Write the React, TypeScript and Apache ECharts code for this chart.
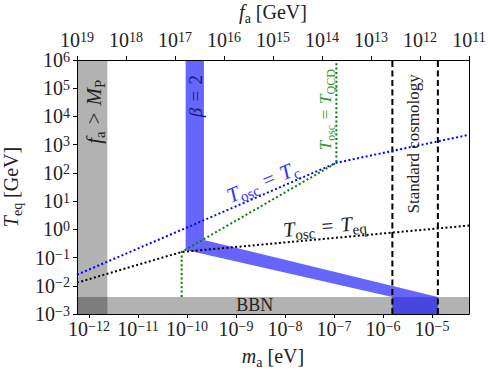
import React, { useEffect, useRef } from 'react';
import * as echarts from 'echarts';

// ---- data (physical units) ----
const K_CONV = 5.7e6; // m_a [eV] * f_a [GeV]
const FA_MIN = 1e11;
const FA_MAX = 1e19;
const T_MIN = 1e-3;
const T_MAX = 1e6;
const MA_TICK_EXP = [-12, -11, -10, -9, -8, -7, -6, -5];
const FA_TICK_EXP = [11, 12, 13, 14, 15, 16, 17, 18, 19];
const FA_PLANCK = 2.4e18;
const T_BBN = 4e-3;
const BETA2_LOWER_M = [9.4e-11, 9.4e-11, 1.556e-6, 1.556e-6];
const BETA2_LOWER_T = [1e6, 0.187, 4e-3, 1e-3];
const BETA2_UPPER_M = [2.22e-10, 2.22e-10, 1.32e-5, 1.32e-5];
const BETA2_UPPER_T = [1e6, 0.423, 4e-3, 1e-3];
const STD_COSMO_M = [1.556e-6, 1.32e-5];
const TC_M = [5.7e-13, 1e-10, 1.12e-7, 5.7e-5];
const TC_T = [0.0247, 1.16, 228, 2240];
const TQCD_M = [7.8e-11, 7.8e-11, 1.12e-7, 1.12e-7];
const TQCD_T = [4e-3, 0.158, 228, 1e6];
const TEQ_M = [5.7e-13, 7.8e-11, 5.7e-5];
const TEQ_T = [0.0129, 0.158, 1.36];

const lg = Math.log10;
const SERIF = "'Liberation Serif', 'DejaVu Serif', serif";
const EQ = '\u2004=\u2004';
const GT = '\u2004>\u2004';

const supLabel = (v: number) => {
  const n = Math.round(v);
  if (Math.abs(v - n) > 1e-6) return '';
  return `{b|10}{s|${n < 0 ? '\u2212' + Math.abs(n) : n}}`;
};
const tickRich = {
  b: { fontFamily: SERIF, fontSize: 20, lineHeight: 20, color: '#222' },
  s: { fontFamily: SERIF, fontSize: 14, lineHeight: 8, verticalAlign: 'top', color: '#222' },
};
const mathRich = (size: number, color: string) => {
  const sub = Math.round(size * 0.7);
  return {
    i: { fontFamily: SERIF, fontStyle: 'italic', fontSize: size, lineHeight: size + 6, color, fill: color },
    r: { fontFamily: SERIF, fontSize: size, lineHeight: size + 6, color, fill: color },
    sub: { fontFamily: SERIF, fontSize: sub, lineHeight: sub + 2, verticalAlign: 'bottom', color, fill: color },
  };
};

const toPts = (ms: number[], ts: number[]) => ms.map((m, i) => [lg(m), lg(ts[i])]);

export default function App() {
  const ref = useRef<HTMLDivElement>(null);
  useEffect(() => {
    if (!ref.current) return;
    const chart = echarts.init(ref.current, null, { renderer: 'svg' });
    const xMin = lg(K_CONV / FA_MAX);
    const xMax = lg(K_CONV / FA_MIN);
    const yMin = lg(T_MIN);
    const yMax = lg(T_MAX);

    const planckPoly = [
      [xMin, yMin], [lg(K_CONV / FA_PLANCK), yMin], [lg(K_CONV / FA_PLANCK), yMax], [xMin, yMax],
    ];
    const bbnPoly = [[xMin, yMin], [xMax, yMin], [xMax, lg(T_BBN)], [xMin, lg(T_BBN)]];
    const betaPoly = [
      ...toPts(BETA2_LOWER_M, BETA2_LOWER_T),
      ...toPts(BETA2_UPPER_M, BETA2_UPPER_T).reverse(),
    ];

    const polySeries = (pts: number[][], color: string, z: number) => ({
      type: 'custom',
      xAxisIndex: 0,
      yAxisIndex: 0,
      z,
      silent: true,
      clip: true,
      data: [pts[0]],
      renderItem: (_p: any, api: any) => ({
        type: 'polygon',
        shape: { points: pts.map((p) => api.coord(p)) },
        style: { fill: color },
      }),
    });
    const lineSeries = (pts: number[][], color: string, type: any, z: number) => ({
      type: 'line',
      xAxisIndex: 0,
      yAxisIndex: 0,
      data: pts,
      showSymbol: false,
      symbol: 'none',
      silent: true,
      z,
      lineStyle: { color, width: 2, type, cap: 'butt' },
    });

    const dotted = [2, 2.4];
    const dashed = [6, 3.5];

    chart.setOption({
      animation: false,
      grid: { left: 77, right: 24, top: 60, bottom: 59, containLabel: false, outerBoundsMode: 'none' },
      xAxis: [
        {
          type: 'value', position: 'bottom', min: xMin, max: xMax, z: 10,
          axisLine: { show: true, onZero: false, lineStyle: { color: '#000', width: 1 } },
          axisTick: { show: true, length: 4, lineStyle: { color: '#000' }, customValues: MA_TICK_EXP },
          axisLabel: { margin: 5, formatter: supLabel, rich: tickRich, customValues: MA_TICK_EXP },
          splitLine: { show: false },
          name: '{i|m}{sub|a}{r| [eV]}', nameLocation: 'middle', nameGap: 29,
          nameTextStyle: { rich: mathRich(20, '#222') },
        },
        {
          type: 'value', position: 'top', min: FA_TICK_EXP[0], max: FA_TICK_EXP[FA_TICK_EXP.length - 1],
          interval: 1, inverse: true, z: 10,
          axisLine: { show: true, onZero: false, lineStyle: { color: '#000', width: 1 } },
          axisTick: { show: true, length: 4, lineStyle: { color: '#000' } },
          axisLabel: { margin: 10, formatter: supLabel, rich: tickRich },
          splitLine: { show: false },
          name: '{i|f}{sub|a}{r| [GeV]}', nameLocation: 'middle', nameGap: 31,
          nameTextStyle: { rich: mathRich(20, '#222') },
        },
      ],
      yAxis: [
        {
          type: 'value', position: 'left', min: yMin, max: yMax, interval: 1, z: 10,
          axisLine: { show: true, onZero: false, lineStyle: { color: '#000', width: 1 } },
          axisTick: { show: true, length: 4, lineStyle: { color: '#000' } },
          axisLabel: { margin: 7, formatter: supLabel, rich: tickRich },
          splitLine: { show: false },
          name: '{i|T}{sub|eq}{r| [GeV]}', nameLocation: 'middle', nameGap: 47,
          nameTextStyle: { rich: mathRich(20, '#222') },
        },
        {
          type: 'value', position: 'right', min: yMin, max: yMax, z: 10,
          axisLine: { show: true, onZero: false, lineStyle: { color: '#000', width: 1 } },
          axisTick: { show: false }, axisLabel: { show: false }, splitLine: { show: false },
        },
      ],
      series: [
        polySeries(planckPoly, 'rgba(0,0,0,0.3)', 1),
        polySeries(bbnPoly, 'rgba(0,0,0,0.3)', 1),
        polySeries(betaPoly, 'rgba(0,0,255,0.6)', 2),
        ...STD_COSMO_M.map((m) => lineSeries([[lg(m), yMin], [lg(m), yMax]], '#000', dashed, 5)),
        lineSeries(toPts(TC_M, TC_T), '#0000ff', dotted, 6),
        lineSeries(toPts(TQCD_M, TQCD_T), '#008000', dotted, 6),
        lineSeries(toPts(TEQ_M, TEQ_T), '#000', dotted, 6),
      ],
    });

    const P = (x: number, y: number) =>
      chart.convertToPixel({ xAxisIndex: 0, yAxisIndex: 0 }, [x, y]) as number[];
    const angleOf = (ms: number[], ts: number[], i: number) => {
      const a = P(lg(ms[i]), lg(ts[i]));
      const b = P(lg(ms[i + 1]), lg(ts[i + 1]));
      return Math.atan2(-(b[1] - a[1]), b[0] - a[0]);
    };
    const label = (pos: number[], text: string, rich: any, rotation: number, color: string) => {
      const p = P(pos[0], pos[1]);
      return {
        type: 'text', x: p[0], y: p[1], rotation, z: 100, silent: true,
        style: {
          text, rich, fill: color,
          align: 'center', verticalAlign: 'middle',
          textAlign: 'center', textVerticalAlign: 'middle',
          fontFamily: SERIF,
        },
      };
    };
    const R90 = Math.PI / 2;
    chart.setOption({
      graphic: [
        label([-11.904, 4.17], `{i|f}{sub|a}{r|${GT}}{i|M}{sub|P}`, mathRich(21, '#222'), R90, '#222'),
        label([-9.822, 4.72], `{i|β}{r|${EQ}2}`, mathRich(19, '#1a1a7a'), R90, '#1a1a7a'),
        label([-7.17, 4.24], `{i|T}{sub|osc}{r|${EQ}}{i|T}{sub|QCD}`, mathRich(17, '#339933'), R90, '#339933'),
        label([-5.373, 3.03], '{r|Standard cosmology}', mathRich(17, '#222'), R90, '#222'),
        label([-8.457, 1.68], `{i|T}{sub|osc}{r|${EQ}}{i|T}{sub|c}`, mathRich(21, '#3333ff'), angleOf(TC_M, TC_T, 0), '#3333ff'),
        label([-7.19, 0.11], `{i|T}{sub|osc}{r|${EQ}}{i|T}{sub|eq}`, mathRich(21, '#222'), angleOf(TEQ_M, TEQ_T, 1), '#222'),
        label([-8.618, -2.698], '{r|BBN}', mathRich(18, '#222'), 0, '#222'),
      ],
    });

    return () => chart.dispose();
  }, []);
  return (
    <div
      ref={ref}
      style={{ position: 'fixed', left: 0, top: 0, width: 493, height: 373, background: '#fff' }}
    />
  );
}
